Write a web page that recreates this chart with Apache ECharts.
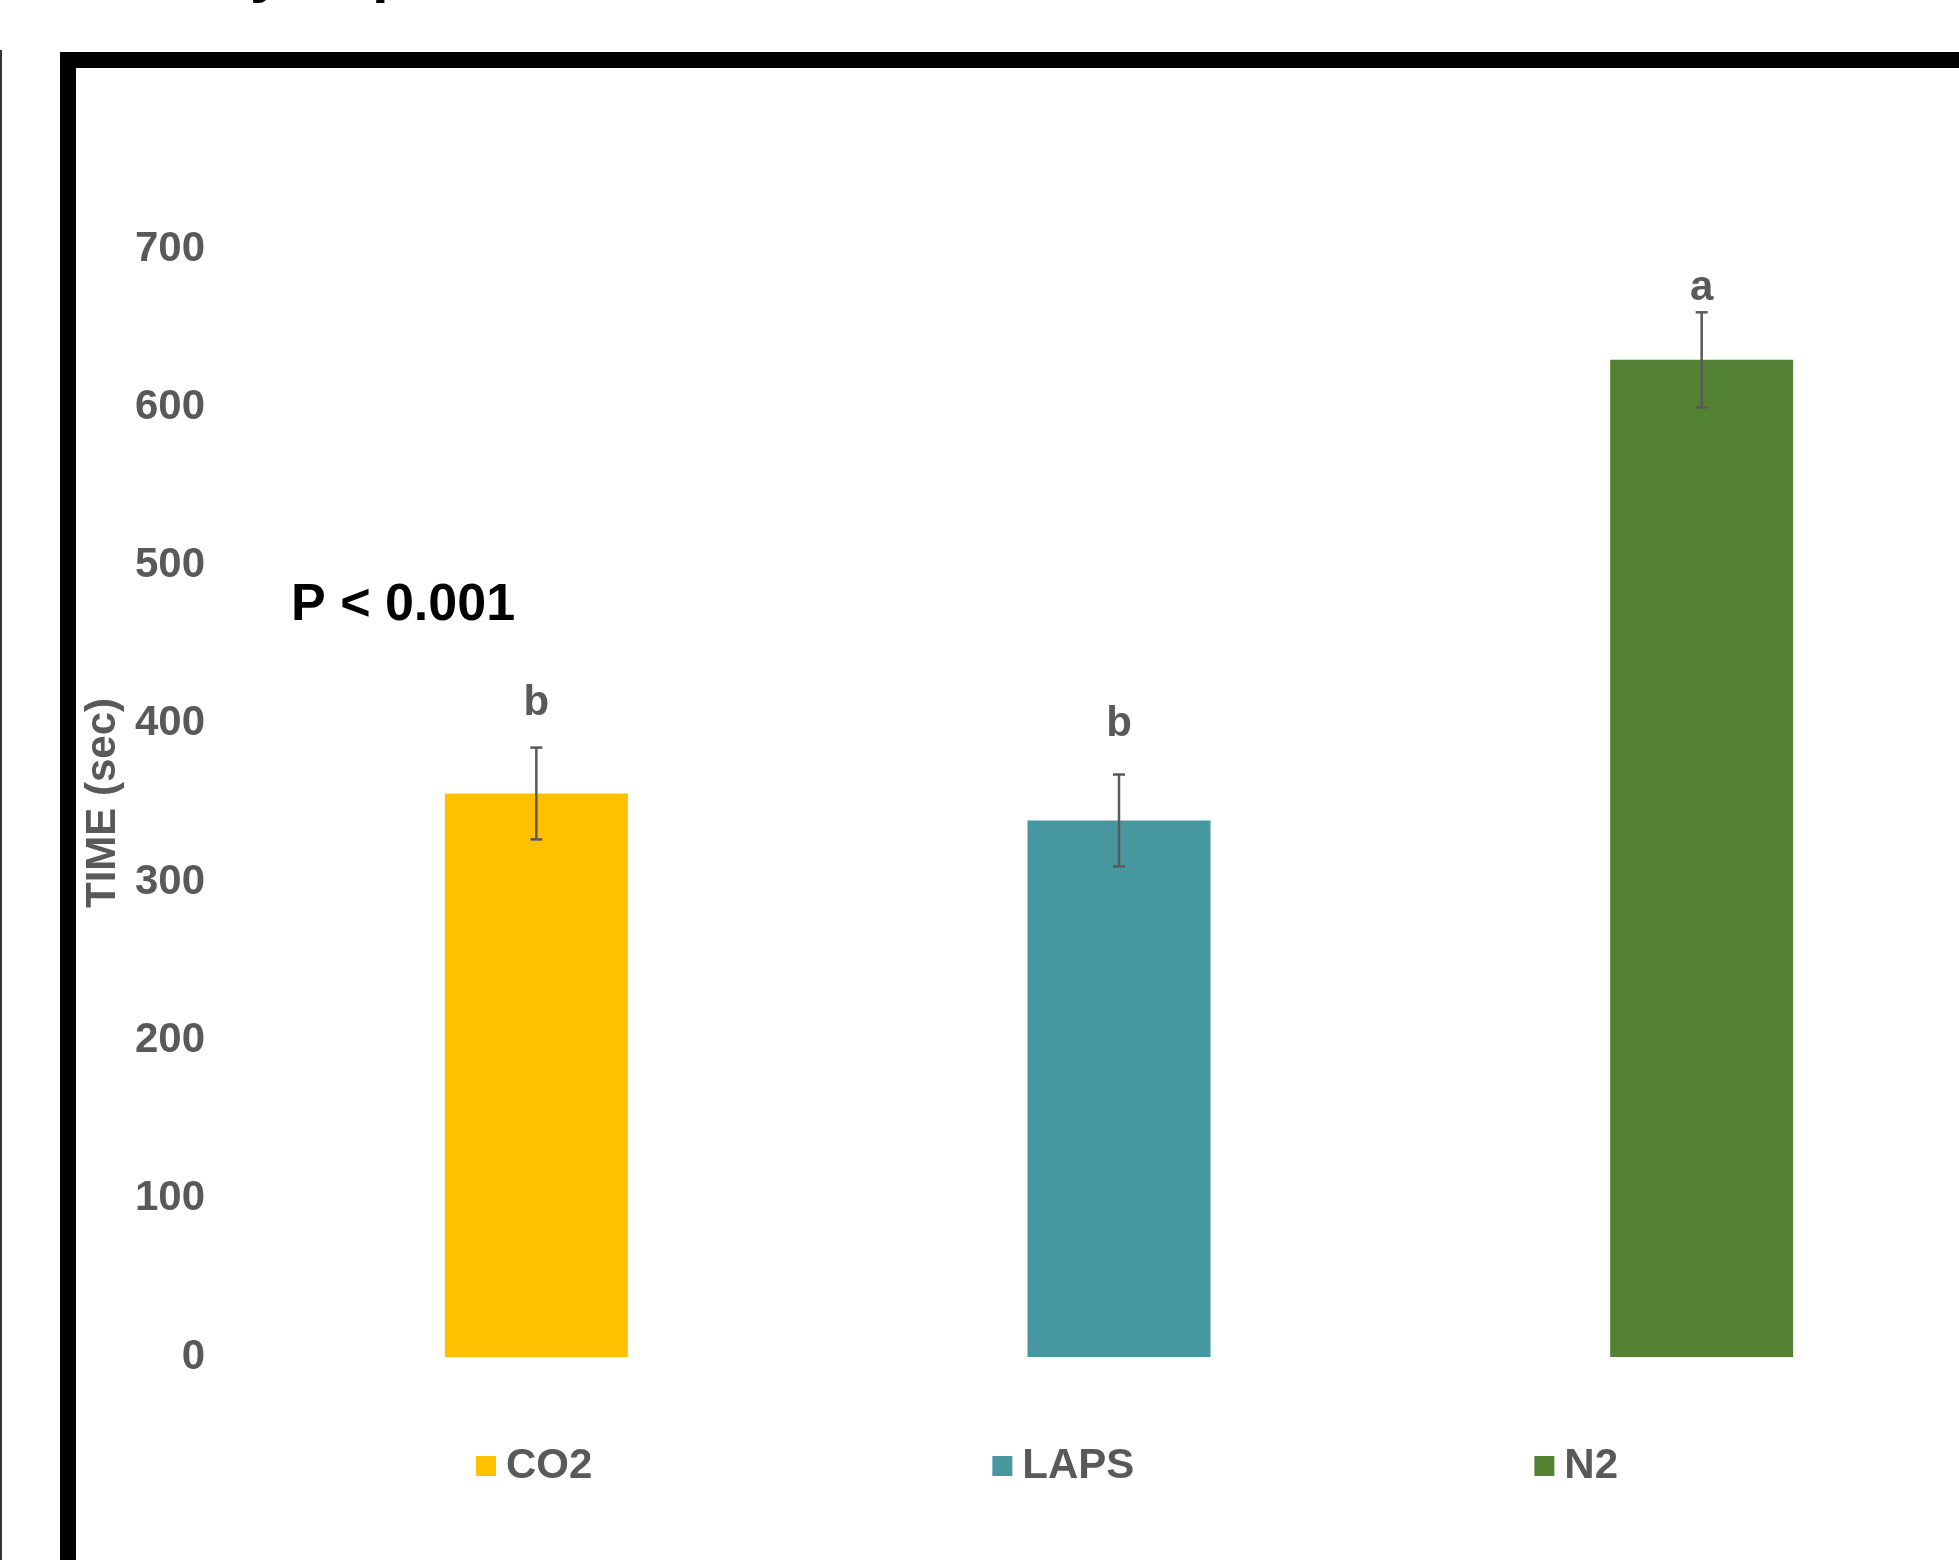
<!DOCTYPE html>
<html>
<head>
<meta charset="utf-8">
<script src="https://cdn.jsdelivr.net/npm/echarts@6/dist/echarts.min.js"></script>
<style>
  html, body { margin: 0; padding: 0; background: #ffffff; }
  #chart { width: 1959px; height: 1560px; }
</style>
</head>
<body>
<div id="chart"></div>
<script>
// Time to response per gas treatment (mean ± SE, seconds)
const groups = ['CO2', 'LAPS', 'N2'];
const meanTime = [356, 339, 630];
const stdErr = [29, 29, 30];
const groupLetters = ['b', 'b', 'a'];
const yMin = 0, yMax = 700, yStep = 100;
const pText = 'P < 0.001';

const barColors = ['#FFC000', '#4697A0', '#548235'];
const inkGray = '#595959';
const fontFam = '"Liberation Sans", Arial, Helvetica, sans-serif';
// pixel lift of each significance letter's baseline above its error-bar cap
const letterLift = [31, 37, 11];

const chart = echarts.init(document.getElementById('chart'), null, { renderer: 'canvas' });

// one bar series per group so each gets its own legend entry
const barSeries = groups.map((g, i) => ({
  name: g,
  type: 'bar',
  barWidth: 183,
  barGap: '-100%',
  itemStyle: { color: barColors[i] },
  data: groups.map((_, j) => (j === i ? meanTime[i] : '-')),
  z: 2
}));

const errData = groups.map((g, i) => [i, meanTime[i] - stdErr[i], meanTime[i] + stdErr[i], groupLetters[i]]);

const errSeries = {
  type: 'custom',
  name: 'err',
  data: errData,
  z: 5,
  renderItem: function (params, api) {
    const x = api.coord([api.value(0), 0])[0];
    const lo = api.coord([api.value(0), api.value(1)])[1];
    const hi = api.coord([api.value(0), api.value(2)])[1];
    const cap = 6;
    const st = { stroke: inkGray, lineWidth: 2.5 };
    const i = params.dataIndex;
    return {
      type: 'group',
      children: [
        { type: 'line', shape: { x1: x, y1: lo, x2: x, y2: hi }, style: st },
        { type: 'line', shape: { x1: x - cap, y1: hi, x2: x + cap, y2: hi }, style: st },
        { type: 'line', shape: { x1: x - cap, y1: lo, x2: x + cap, y2: lo }, style: st },
        {
          type: 'text',
          x: x,
          y: hi - letterLift[i] - 13,
          style: {
            text: groupLetters[i],
            fill: inkGray,
            font: 'bold 42px ' + fontFam,
            align: 'center',
            verticalAlign: 'middle'
          }
        }
      ]
    };
  }
};

const option = {
  backgroundColor: '#ffffff',
  animation: false,
  // the plot runs past the right edge of the page
  grid: { left: 245, top: 249, width: 1748, height: 1108, outerBoundsMode: 'none', containLabel: false },
  legend: {
    data: groups,
    left: 471,
    top: 1440,
    itemWidth: 20,
    itemHeight: 20,
    itemGap: 400,
    icon: 'rect',
    textStyle: {
      color: inkGray,
      fontSize: 42,
      fontWeight: 'bold',
      fontFamily: fontFam,
      padding: [0, 0, 0, 5]
    }
  },
  xAxis: {
    type: 'category',
    data: groups,
    axisLine: { show: false },
    axisTick: { show: false },
    axisLabel: { show: false },
    splitLine: { show: false }
  },
  yAxis: {
    type: 'value',
    min: yMin,
    max: yMax,
    interval: yStep,
    name: 'TIME (sec)',
    nameLocation: 'middle',
    nameGap: 121,
    nameTextStyle: {
      color: inkGray,
      fontSize: 42,
      fontWeight: 'bold',
      fontFamily: fontFam
    },
    axisLine: { show: false },
    axisTick: { show: false },
    splitLine: { show: false },
    axisLabel: {
      margin: 40,
      color: inkGray,
      fontSize: 42,
      fontWeight: 'bold',
      fontFamily: fontFam
    }
  },
  graphic: [
    // panel frame (top and left edges)
    { type: 'rect', shape: { x: 60, y: 52, width: 1899, height: 16 }, style: { fill: '#000000' }, z: 10 },
    { type: 'rect', shape: { x: 60, y: 52, width: 16, height: 1508 }, style: { fill: '#000000' }, z: 10 },
    { type: 'rect', shape: { x: 0, y: 50, width: 2, height: 1510 }, style: { fill: '#333333' }, z: 10 },
    // lower edge of the heading above the panel
    { type: 'text', x: 250, y: -26, style: { text: 'y', fill: '#000000', font: 'bold 60px ' + fontFam, verticalAlign: 'middle' }, z: 10 },
    { type: 'text', x: 372, y: -26, style: { text: 'p', fill: '#000000', font: 'bold 60px ' + fontFam, verticalAlign: 'middle' }, z: 10 },
    // test statistic
    { type: 'text', x: 291, y: 606, style: { text: pText, fill: '#000000', font: 'bold 52px ' + fontFam, verticalAlign: 'middle' }, z: 10 }
  ],
  series: barSeries.concat([errSeries])
};

chart.setOption(option);
</script>
</body>
</html>
